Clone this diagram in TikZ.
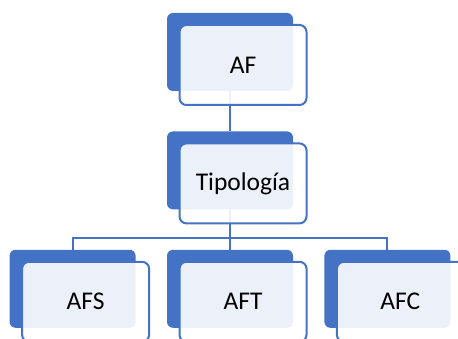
\documentclass[tikz,border=0pt]{standalone}
\usepackage{fontspec}
\setmainfont{Carlito}
\usepackage{tikz}
\usetikzlibrary{positioning}
\definecolor{smartblue}{HTML}{4472C4}
\tikzset{
  backbox/.style={rectangle,rounded corners=6pt,fill=smartblue,
                  minimum width=126pt,minimum height=78pt,inner sep=0pt},
  frontbox/.style={rectangle,rounded corners=7pt,draw=smartblue,
                   line width=2pt,fill=white,fill opacity=0.9,
                   text opacity=1,minimum width=127pt,minimum height=80pt,
                   inner sep=0pt,font=\fontsize{25.5}{30}\selectfont},
  link/.style={draw=smartblue,line width=2pt},
}

\begin{document}
\begin{tikzpicture}[x=1pt,y=1pt]
    \useasboundingbox (0,0) rectangle (458,-339);

    % Back boxes
    \node[backbox] (afb) at (230,-52)     {};
    \node[backbox] (tipb) [below=40pt of afb]  {};
    \node[backbox] (aftb) [below=40pt of tipb] {};
    \node[backbox] (afsb) [left=31pt of aftb]  {};
    \node[backbox] (afcb) [right=31pt of aftb] {};

    % Links
    \coordinate (bus) at ([yshift=12pt]aftb.north);
    \draw[link] (afb.south) -- (tipb.north);
    \draw[link] (tipb.south) -- (aftb.north);
    \draw[link] (afsb.north) |- (bus) -| (afcb.north);

    % Front boxes
    \node[frontbox] (af)  at ([shift={(13pt,-13pt)}]afb)  {AF};
    \node[frontbox] (tip) at ([shift={(13pt,-13pt)}]tipb) {Tipología};
    \node[frontbox] (afs) at ([shift={(13pt,-13pt)}]afsb) {AFS};
    \node[frontbox] (aft) at ([shift={(13pt,-13pt)}]aftb) {AFT};
    \node[frontbox] (afc) at ([shift={(13pt,-13pt)}]afcb) {AFC};
\end{tikzpicture}
\end{document}
